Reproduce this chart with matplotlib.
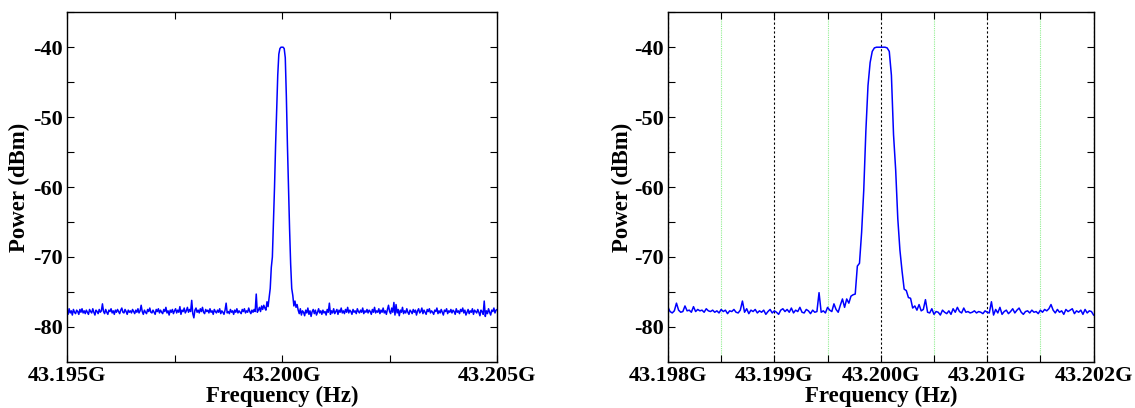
import numpy as np
import matplotlib
matplotlib.use('Agg')
import matplotlib.pyplot as plt

plt.rcParams['font.family'] = ['Liberation Serif', 'DejaVu Serif']
plt.rcParams['font.weight'] = 'bold'
plt.rcParams['axes.unicode_minus'] = False

# left spectrum: 10 MHz span, 401 points (GHz)
f1_start, f1_stop = 43.195, 43.205
p1 = [
    -77.6, -78.2, -77.4, -78.0, -77.7, -78.3, -77.5, -77.9, -78.1, -77.6, -77.8, -78.2, -77.5, -77.9, -77.4, -78.0, -77.7, -78.1, -77.6, -77.9,
    -78.2, -77.5, -77.8, -78.0, -77.4, -77.9, -78.3, -77.6, -77.8, -78.1, -77.5, -77.9, -77.7, -76.7, -77.8, -78.1, -77.5, -77.9, -78.2, -77.6,
    -77.8, -77.4, -78.0, -77.7, -78.2, -77.6, -77.9, -77.5, -77.8, -78.1, -77.6, -77.3, -77.9, -78.0, -77.5, -77.8, -78.2, -77.6, -77.9, -77.7,
    -78.0, -77.5, -77.8, -78.1, -77.6, -77.9, -77.4, -78.0, -77.7, -76.9, -77.8, -78.2, -77.6, -77.9, -78.1, -77.5, -77.8, -77.3, -77.9, -78.0,
    -77.6, -77.9, -78.2, -77.5, -77.8, -77.4, -78.0, -77.6, -77.9, -78.1, -77.5, -77.8, -77.2, -78.0, -77.7, -78.3, -77.6, -77.9, -77.5, -78.1,
    -77.7, -77.4, -78.0, -77.6, -77.9, -77.1, -78.2, -77.6, -77.8, -77.3, -78.0, -77.7, -77.2, -77.9, -77.5, -77.8, -76.2, -78.1, -78.7, -77.6,
    -77.3, -77.9, -77.6, -78.0, -77.4, -77.8, -77.2, -77.9, -78.1, -77.5, -77.8, -77.6, -78.0, -77.4, -77.9, -77.7, -78.2, -77.5, -77.8, -78.0,
    -77.6, -77.9, -77.4, -78.1, -77.7, -77.9, -78.2, -77.6, -76.6, -78.0, -77.8, -78.1, -77.5, -77.9, -77.7, -78.2, -77.6, -77.9, -77.4, -78.0,
    -77.7, -77.9, -78.1, -77.5, -77.8, -77.4, -78.0, -77.7, -77.9, -77.3, -77.8, -78.1, -77.6, -77.9, -77.5, -77.8, -75.3, -77.9, -77.6, -77.2,
    -77.8, -77.0, -77.5, -76.9, -77.3, -77.6, -76.4, -77.1, -75.8, -74.5, -71.5, -70.0, -65.0, -60.0, -54.0, -49.0, -44.0, -41.0, -40.2, -40.0,
    -40.0, -40.0, -40.2, -41.5, -47.0, -54.0, -60.0, -66.0, -71.0, -74.5, -75.5, -77.0, -76.3, -77.2, -76.8, -77.6, -78.1, -77.4, -78.3, -77.7,
    -77.9, -78.4, -77.6, -78.0, -77.3, -78.2, -77.7, -78.5, -77.8, -77.5, -78.1, -77.6, -78.3, -77.9, -77.4, -78.0, -77.7, -78.2, -77.6, -78.0,
    -77.8, -78.3, -77.5, -77.9, -76.6, -78.2, -77.7, -78.0, -77.4, -78.1, -77.8, -77.5, -78.2, -77.6, -77.9, -77.3, -78.0, -77.7, -78.1, -77.5,
    -77.9, -77.2, -78.0, -77.6, -77.8, -78.2, -77.5, -77.9, -77.7, -78.1, -77.4, -77.8, -78.0, -77.6, -77.9, -77.3, -78.1, -77.7, -77.9, -77.5,
    -78.0, -77.6, -77.8, -78.2, -77.5, -77.9, -77.2, -78.0, -77.7, -77.9, -77.4, -78.1, -77.6, -77.9, -77.3, -78.0, -77.7, -78.2, -77.5, -76.9,
    -77.8, -78.1, -77.3, -77.9, -76.5, -78.3, -76.8, -78.0, -77.5, -78.4, -77.6, -77.9, -77.2, -78.1, -77.7, -78.0, -77.4, -77.9, -78.2, -77.6,
    -77.8, -78.1, -77.5, -77.9, -77.6, -78.3, -77.7, -77.4, -78.0, -77.8, -77.3, -78.1, -77.6, -77.9, -78.2, -77.5, -77.8, -77.4, -78.0, -77.7,
    -77.9, -78.2, -77.6, -77.8, -77.3, -78.1, -77.7, -78.0, -77.5, -77.9, -78.3, -77.6, -77.8, -77.4, -78.1, -77.7, -77.9, -77.5, -78.0, -77.6,
    -77.8, -78.2, -77.4, -77.9, -77.7, -78.1, -77.5, -77.8, -77.3, -78.0, -77.6, -78.3, -77.9, -77.5, -78.1, -77.7, -77.9, -77.4, -78.2, -77.6,
    -77.8, -78.0, -77.5, -77.9, -78.4, -77.6, -77.8, -78.2, -76.3, -78.5, -77.7, -78.1, -77.4, -77.9, -78.3, -77.6, -77.8, -77.3, -78.0, -77.6,
    -77.5,
]

# right spectrum: 4 MHz span, 201 points (GHz)
f2_start, f2_stop = 43.198, 43.202
p2 = [
    -77.2, -77.8, -78.0, -77.7, -76.6, -77.6, -77.9, -77.8, -77.0, -77.7, -77.6, -77.9, -77.1, -77.8, -77.5, -77.7, -77.6, -77.9, -77.4, -77.7,
    -77.8, -77.6, -77.9, -77.7, -78.0, -77.5, -77.8, -77.6, -78.1, -77.7, -77.8, -77.5, -77.9, -78.0, -77.6, -76.3, -77.9, -77.4, -78.1, -77.6,
    -77.8, -77.5, -78.0, -77.7, -77.9, -77.6, -78.2, -77.8, -77.5, -78.0, -77.7, -77.9, -78.2, -77.6, -77.4, -77.8, -77.5, -77.9, -77.3, -78.0,
    -77.6, -77.8, -77.2, -77.9, -78.0, -77.5, -77.7, -78.1, -77.6, -77.9, -77.8, -75.1, -77.9, -77.7, -78.0, -77.2, -77.6, -77.8, -76.7, -77.5,
    -77.9, -76.9, -76.0, -77.2, -76.0, -76.6, -75.6, -75.4, -75.3, -71.3, -70.9, -66.5, -60.5, -52.0, -45.5, -42.2, -40.6, -40.1, -40.0, -40.0,
    -40.0, -40.0, -40.0, -40.1, -40.6, -44.0, -52.5, -57.5, -64.5, -69.0, -72.0, -74.6, -74.8, -75.8, -75.9, -77.3, -77.0, -77.6, -76.8, -77.7,
    -77.5, -76.1, -77.9, -78.0, -77.4, -78.2, -77.8, -77.9, -78.3, -77.6, -77.9, -78.1, -77.7, -78.2, -77.4, -77.9, -77.2, -77.8, -78.0, -77.3,
    -77.9, -77.8, -78.0, -77.9, -77.7, -78.0, -77.8, -77.9, -78.1, -77.7, -77.9, -78.0, -76.4, -78.3, -77.5, -78.0, -77.2, -78.2, -77.8, -77.6,
    -78.1, -77.8, -77.4, -78.0, -77.6, -77.3, -77.9, -78.2, -77.8, -77.7, -78.0, -77.6, -77.9, -77.8, -78.1, -77.6, -77.9, -77.5, -77.7, -77.4,
    -76.8, -77.6, -78.0, -77.5, -77.9, -77.7, -78.2, -77.5, -77.8, -77.6, -77.4, -78.1, -77.7, -77.9, -77.6, -78.2, -77.5, -78.0, -77.7, -77.8,
    -78.3,
]

x1_major = [43.195, 43.200, 43.205]
x1_minor = [43.1975, 43.2025]
x1_labels = ['43.195G', '43.200G', '43.205G']
x2_major = [43.198, 43.199, 43.200, 43.201, 43.202]
x2_minor = [43.1985, 43.1995, 43.2005, 43.2015]
x2_labels = ['43.198G', '43.199G', '43.200G', '43.201G', '43.202G']
y_major = [-80, -70, -60, -50, -40]
y_minor = [-85, -75, -65, -55, -45, -35]

f1 = np.linspace(f1_start, f1_stop, len(p1))
f2 = np.linspace(f2_start, f2_stop, len(p2))

fig = plt.figure(figsize=(11.35, 4.08), dpi=100)
ax1 = fig.add_axes([0.059, 0.113, 0.379, 0.857])
ax2 = fig.add_axes([0.5885, 0.113, 0.375, 0.857])

ax1.plot(f1, p1, color='#0000ff', lw=1.1)
ax2.plot(f2, p2, color='#0000ff', lw=1.1)

for ax, xmaj, xmin, xlab, lims, ylx in [(ax1, x1_major, x1_minor, x1_labels, (f1_start, f1_stop), -0.085),
                                        (ax2, x2_major, x2_minor, x2_labels, (f2_start, f2_stop), -0.081)]:
    ax.set_xlim(*lims)
    ax.set_ylim(-85, -35)
    ax.set_xticks(xmaj)
    ax.set_xticklabels(xlab)
    ax.set_xticks(xmin, minor=True)
    ax.set_yticks(y_major)
    ax.set_yticklabels([str(v) for v in y_major])
    ax.set_yticks(y_minor, minor=True)
    ax.tick_params(which='both', direction='in', top=True, right=True,
                   labelsize=16, length=5, width=0.8)
    ax.tick_params(axis='x', pad=3)
    ax.tick_params(axis='y', pad=3)
    ax.set_xlabel('Frequency (Hz)', fontsize=16.5, fontweight='bold', labelpad=0)
    ax.set_ylabel('Power (dBm)', fontsize=16.5, fontweight='bold')
    ax.yaxis.set_label_coords(ylx, 0.5)
    for s in ax.spines.values():
        s.set_linewidth(1.0)

# grid lines on the zoomed spectrum
ax2.grid(True, which='major', axis='x', color='black', linestyle=(0, (2, 2)), lw=0.8)
ax2.grid(True, which='minor', axis='x', color='#90ee90', linestyle=(0, (1, 1)), lw=0.8)
ax2.set_axisbelow(True)

fig.savefig('out.png', dpi=100)
